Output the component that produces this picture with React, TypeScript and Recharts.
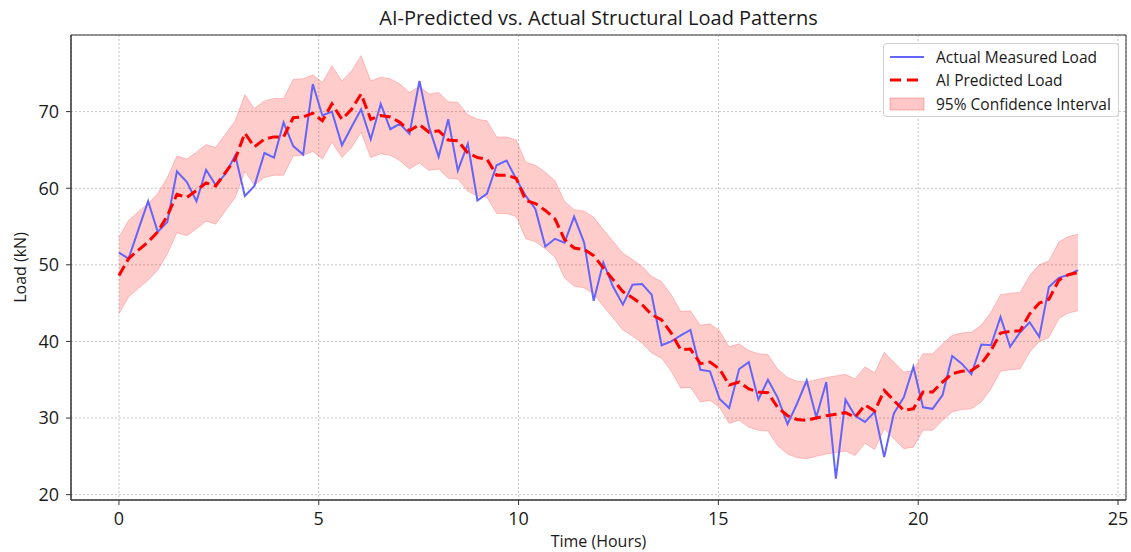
import React from 'react';
import { ComposedChart, Line, Area, XAxis, YAxis, CartesianGrid, ReferenceArea } from 'recharts';

const hours = [
  0, 0.24, 0.48, 0.73, 0.97, 1.21, 1.45, 1.7, 1.94, 2.18,
  2.42, 2.67, 2.91, 3.15, 3.39, 3.64, 3.88, 4.12, 4.36, 4.61,
  4.85, 5.09, 5.33, 5.58, 5.82, 6.06, 6.3, 6.55, 6.79, 7.03,
  7.27, 7.52, 7.76, 8.0, 8.24, 8.48, 8.73, 8.97, 9.21, 9.45,
  9.7, 9.94, 10.18, 10.42, 10.67, 10.91, 11.15, 11.39, 11.64, 11.88,
  12.12, 12.36, 12.61, 12.85, 13.09, 13.33, 13.58, 13.82, 14.06, 14.3,
  14.55, 14.79, 15.03, 15.27, 15.52, 15.76, 16.0, 16.24, 16.48, 16.73,
  16.97, 17.21, 17.45, 17.7, 17.94, 18.18, 18.42, 18.67, 18.91, 19.15,
  19.39, 19.64, 19.88, 20.12, 20.36, 20.61, 20.85, 21.09, 21.33, 21.58,
  21.82, 22.06, 22.3, 22.55, 22.79, 23.03, 23.27, 23.52, 23.76, 24.0,
];

const actualLoad = [
  51.6, 50.8, 54.5, 58.3, 54.3, 55.6, 62.2, 60.8, 58.3, 62.4,
  60.4, 61.9, 64.3, 59.0, 60.3, 64.6, 64.0, 68.6, 65.5, 64.4,
  73.6, 69.5, 70.0, 65.6, 68.0, 70.3, 66.4, 71.0, 67.7, 68.4,
  67.1, 74.0, 68.0, 64.1, 69.0, 62.3, 65.8, 58.4, 59.3, 63.0,
  63.6, 61.2, 59.0, 57.3, 52.4, 53.4, 52.9, 56.3, 52.9, 45.3,
  50.3, 47.2, 44.8, 47.4, 47.5, 46.1, 39.5, 40.0, 40.8, 41.5,
  36.3, 36.1, 32.5, 31.3, 36.4, 37.3, 32.4, 35.0, 32.7, 29.2,
  31.9, 34.9, 30.1, 34.7, 22.1, 32.4, 30.3, 29.5, 30.8, 24.9,
  30.6, 32.7, 36.7, 31.4, 31.2, 33.0, 38.1, 37.1, 35.7, 39.6,
  39.5, 43.2, 39.3, 41.2, 42.5, 40.6, 47.1, 48.3, 48.7, 49.3,
];

const predictedLoad = [
  48.6, 50.8, 51.9, 53.0, 54.3, 56.4, 59.2, 58.8, 59.7, 60.7,
  60.3, 62.1, 63.8, 67.2, 65.4, 66.4, 66.7, 66.7, 69.2, 69.3,
  69.8, 68.8, 71.0, 69.0, 70.3, 72.3, 69.0, 69.5, 69.3, 68.6,
  67.5, 68.3, 67.3, 67.5, 66.3, 66.2, 64.6, 64.0, 63.8, 61.7,
  61.7, 61.3, 58.4, 58.0, 57.1, 56.0, 53.3, 52.2, 52.0, 51.2,
  49.6, 48.1, 46.5, 45.7, 44.8, 43.5, 42.8, 41.1, 38.9, 39.0,
  37.1, 37.3, 36.4, 34.3, 34.7, 33.8, 33.4, 33.3, 31.4, 30.3,
  29.8, 29.7, 30.0, 30.3, 30.5, 30.7, 30.1, 31.7, 30.9, 33.6,
  32.3, 31.0, 31.2, 33.4, 33.4, 34.7, 35.8, 36.1, 36.2, 37.1,
  38.8, 41.1, 41.3, 41.4, 43.6, 45.0, 45.5, 48.0, 48.7, 49.0,
];

const ciUpper = [
  53.6, 55.8, 56.9, 58.0, 59.3, 61.4, 64.2, 63.8, 64.7, 65.7,
  65.3, 67.1, 68.8, 72.2, 70.4, 71.4, 71.7, 71.7, 74.2, 74.3,
  74.8, 73.8, 76.0, 74.0, 75.3, 77.3, 74.0, 74.5, 74.3, 73.6,
  72.5, 73.3, 72.3, 72.5, 71.3, 71.2, 69.6, 69.0, 68.8, 66.7,
  66.7, 66.3, 63.4, 63.0, 62.1, 61.0, 58.3, 57.2, 57.0, 56.2,
  54.6, 53.1, 51.5, 50.7, 49.8, 48.5, 47.8, 46.1, 43.9, 44.0,
  42.1, 42.3, 41.4, 39.3, 39.7, 38.8, 38.4, 38.3, 36.4, 35.3,
  34.8, 34.7, 35.0, 35.3, 35.5, 35.7, 35.1, 36.7, 35.9, 38.6,
  37.3, 36.0, 36.2, 38.4, 38.4, 39.7, 40.8, 41.1, 41.2, 42.1,
  43.8, 46.1, 46.3, 46.4, 48.6, 50.0, 50.5, 53.0, 53.7, 54.0,
];

const ciLower = [
  43.6, 45.8, 46.9, 48.0, 49.3, 51.4, 54.2, 53.8, 54.7, 55.7,
  55.3, 57.1, 58.8, 62.2, 60.4, 61.4, 61.7, 61.7, 64.2, 64.3,
  64.8, 63.8, 66.0, 64.0, 65.3, 67.3, 64.0, 64.5, 64.3, 63.6,
  62.5, 63.3, 62.3, 62.5, 61.3, 61.2, 59.6, 59.0, 58.8, 56.7,
  56.7, 56.3, 53.4, 53.0, 52.1, 51.0, 48.3, 47.2, 47.0, 46.2,
  44.6, 43.1, 41.5, 40.7, 39.8, 38.5, 37.8, 36.1, 33.9, 34.0,
  32.1, 32.3, 31.4, 29.3, 29.7, 28.8, 28.4, 28.3, 26.4, 25.3,
  24.8, 24.7, 25.0, 25.3, 25.5, 25.7, 25.1, 26.7, 25.9, 28.6,
  27.3, 26.0, 26.2, 28.4, 28.4, 29.7, 30.8, 31.1, 31.2, 32.1,
  33.8, 36.1, 36.3, 36.4, 38.6, 40.0, 40.5, 43.0, 43.7, 44.0,
];

const xTicks = [0, 5, 10, 15, 20, 25];
const yTicks = [20, 30, 40, 50, 60, 70];
const xDomain = [-1.2, 25.2];
const yDomain = [19.3, 80.0];

const seriesNames = ['Actual Measured Load', 'AI Predicted Load', '95% Confidence Interval'];
const titleText = 'AI-Predicted vs. Actual Structural Load Patterns';
const xLabelText = 'Time (Hours)';
const yLabelText = 'Load (kN)';

const FONT = '"Open Sans", "DejaVu Sans", sans-serif';
const TEXT = '#1a1a1a';
const AXIS = '#333333';
const BLUE = '#6464f8';

const XLabel = (props: any) => {
  const vb = props.viewBox || { x: 71, y: 500, width: 1055, height: 52 };
  const cx = vb.x + vb.width / 2;
  return (
    <text x={cx} y={541} textAnchor="middle" dominantBaseline="central" fontSize={16} fill={TEXT} fontFamily={FONT}>
      {xLabelText}
    </text>
  );
};

const YLabel = (props: any) => {
  const vb = props.viewBox || { x: 0, y: 35, width: 71, height: 465 };
  const cx = 20;
  const cy = vb.y + vb.height / 2;
  return (
    <text x={cx} y={cy} transform={`rotate(-90 ${cx} ${cy})`} textAnchor="middle" dominantBaseline="central" fontSize={16} fill={TEXT} fontFamily={FONT}>
      {yLabelText}
    </text>
  );
};

const LegendBox = () => (
  <div
    style={{
      position: 'absolute',
      left: 883,
      top: 43,
      border: '1px solid #d0d0d0',
      borderRadius: 4,
      background: 'rgba(255,255,255,0.85)',
      padding: '1px 0',
      boxSizing: 'border-box',
      width: 236,
      height: 74,
      fontFamily: FONT,
      fontSize: 15.5,
      color: TEXT,
      zIndex: 3,
    }}
  >
    {seriesNames.map((name, i) => (
      <div key={name} style={{ display: 'flex', alignItems: 'center', height: 23.5 }}>
        <svg width={52} height={14} style={{ flex: 'none' }}>
          {i === 0 && <line x1={6} x2={40} y1={7} y2={7} stroke={BLUE} strokeWidth={2} />}
          {i === 1 && <line x1={6} x2={40} y1={7} y2={7} stroke="#ff0000" strokeWidth={3} strokeDasharray="11 6" />}
          {i === 2 && <rect x={6} y={1} width={34} height={12} fill="#ff0000" fillOpacity={0.22} stroke="#ff0000" strokeOpacity={0.25} />}
        </svg>
        <span style={{ whiteSpace: 'nowrap' }}>{name}</span>
      </div>
    ))}
  </div>
);

export default function App() {
  const data = hours.map((h, i) => ({
    h,
    actual: actualLoad[i],
    predicted: predictedLoad[i],
    band: [ciLower[i], ciUpper[i]],
  }));

  return (
    <div style={{ position: 'absolute', left: 0, top: 0, width: 1131, height: 552, background: '#fff', fontFamily: FONT }}>
      <div
        style={{
          position: 'absolute',
          top: 4,
          left: 71,
          width: 1055,
          textAlign: 'center',
          fontSize: 20,
          color: TEXT,
          lineHeight: '28px',
          zIndex: 2,
        }}
      >
        {titleText}
      </div>
      <ComposedChart width={1131} height={552} data={data} margin={{ top: 35, right: 5, bottom: 0, left: 0 }}>
        <CartesianGrid stroke="#c4c4c4" strokeDasharray="2 2" strokeWidth={1} />
        <XAxis
          dataKey="h"
          type="number"
          domain={xDomain}
          ticks={xTicks}
          allowDataOverflow
          height={52}
          tickSize={5}
          tickMargin={7}
          tick={{ fontSize: 18, fill: TEXT, fontFamily: FONT }}
          tickLine={{ stroke: AXIS }}
          axisLine={{ stroke: AXIS }}
          label={<XLabel />}
        />
        <YAxis
          type="number"
          domain={yDomain}
          ticks={yTicks}
          allowDataOverflow
          width={71}
          tickSize={5}
          tickMargin={7}
          tick={{ fontSize: 18, fill: TEXT, fontFamily: FONT }}
          tickLine={{ stroke: AXIS }}
          axisLine={{ stroke: AXIS }}
          label={<YLabel />}
        />
        <ReferenceArea x1={xDomain[0]} x2={xDomain[1]} y1={yDomain[0]} y2={yDomain[1]} fill="none" stroke={AXIS} strokeWidth={1} />
        <Area
          type="linear"
          dataKey="band"
          name={seriesNames[2]}
          fill="#ff0000"
          fillOpacity={0.2}
          stroke="#ff0000"
          strokeOpacity={0.2}
          strokeWidth={1}
          isAnimationActive={false}
          activeDot={false}
          dot={false}
        />
        <Line
          type="linear"
          dataKey="actual"
          name={seriesNames[0]}
          stroke={BLUE}
          strokeWidth={2}
          dot={false}
          activeDot={false}
          isAnimationActive={false}
        />
        <Line
          type="linear"
          dataKey="predicted"
          name={seriesNames[1]}
          stroke="#ff0000"
          strokeWidth={3}
          strokeDasharray="11 5"
          dot={false}
          activeDot={false}
          isAnimationActive={false}
        />
      </ComposedChart>
      <LegendBox />
    </div>
  );
}
